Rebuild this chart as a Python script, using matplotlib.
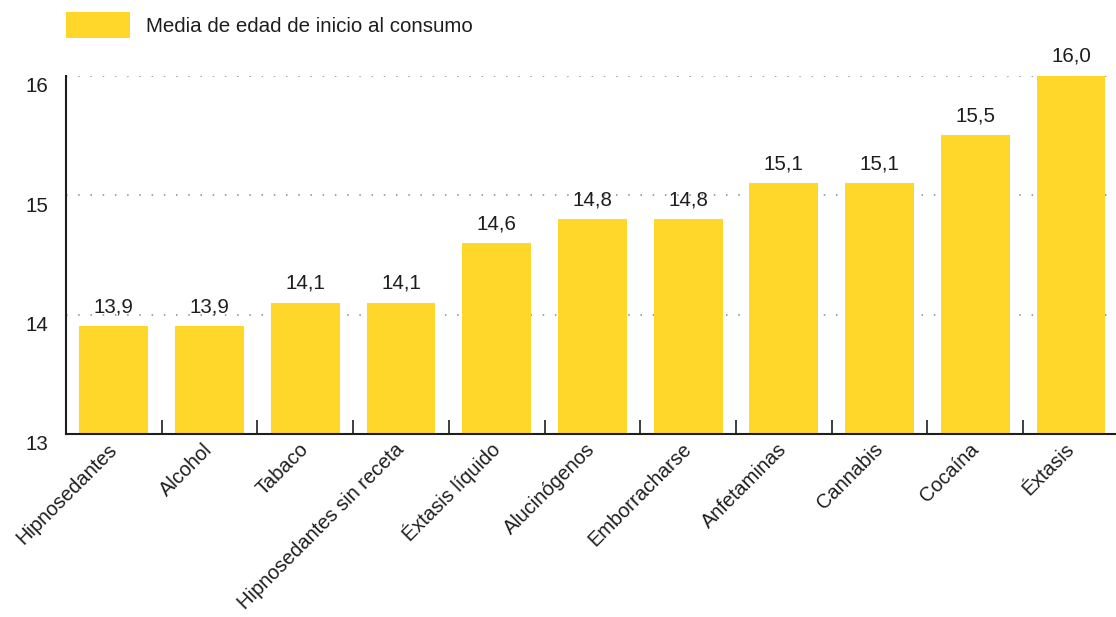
import numpy as np
import matplotlib.pyplot as plt
import matplotlib.transforms as mtransforms
from matplotlib.patches import Patch

plt.rcParams['font.family'] = ['Liberation Sans', 'DejaVu Sans']

categorias = ['Hipnosedantes', 'Alcohol', 'Tabaco', 'Hipnosedantes sin receta',
              'Éxtasis líquido', 'Alucinógenos', 'Emborracharse', 'Anfetaminas',
              'Cannabis', 'Cocaína', 'Éxtasis']
edad_media = [13.9, 13.9, 14.1, 14.1, 14.6, 14.8, 14.8, 15.1, 15.1, 15.5, 16.0]
yticks = [13, 14, 15, 16]
serie = 'Media de edad de inicio al consumo'

amarillo = '#FED72A'
texto = '#1e1e1e'
fs = 14.8

fig = plt.figure(figsize=(11.16, 6.17), dpi=100)
ax = fig.add_axes([66 / 1116, 1 - 434 / 617, 1050 / 1116, 358.5 / 617])

x = np.arange(len(categorias))
bars = ax.bar(x, edad_media, width=0.72, color=amarillo, zorder=2)
ax.bar_label(bars, labels=[('%.1f' % v).replace('.', ',') for v in edad_media],
             padding=7, fontsize=fs, color=texto)

ax.set_ylim(13, 16.0)
ax.set_xlim(-0.5, 10.47)

# grid de puntos
ax.set_yticks(yticks)
ax.yaxis.grid(True, linestyle=(0, (1, 7)), color='#888888', linewidth=1.1)
ax.set_axisbelow(True)
ax.tick_params(axis='y', length=0, pad=13, labelsize=fs, labelcolor=texto)
offset = mtransforms.ScaledTranslation(0, -9 / 100, fig.dpi_scale_trans)
for lab in ax.get_yticklabels():
    lab.set_transform(lab.get_transform() + offset)

# marcas entre barras
ax.set_xticks(x[:-1] + 0.5, minor=True)
ax.tick_params(axis='x', which='minor', direction='in', length=10, width=1.2, color=texto)
ax.set_xticks(x)
ax.set_xticklabels(categorias, rotation=45, ha='right', va='center',
                   rotation_mode='anchor', fontsize=14.4, color=texto)
ax.tick_params(axis='x', which='major', length=0, pad=9)

for s in ['top', 'right']:
    ax.spines[s].set_visible(False)
for s in ['left', 'bottom']:
    ax.spines[s].set_linewidth(1.5)
    ax.spines[s].set_color(texto)

fig.legend(handles=[Patch(facecolor=amarillo, label=serie)],
           loc='upper left', bbox_to_anchor=(0.043, 1.011), frameon=False,
           fontsize=fs, handlelength=3.1, handleheight=1.6, handletextpad=0.78,
           labelcolor=texto)

fig.savefig('out.png', dpi=100)
